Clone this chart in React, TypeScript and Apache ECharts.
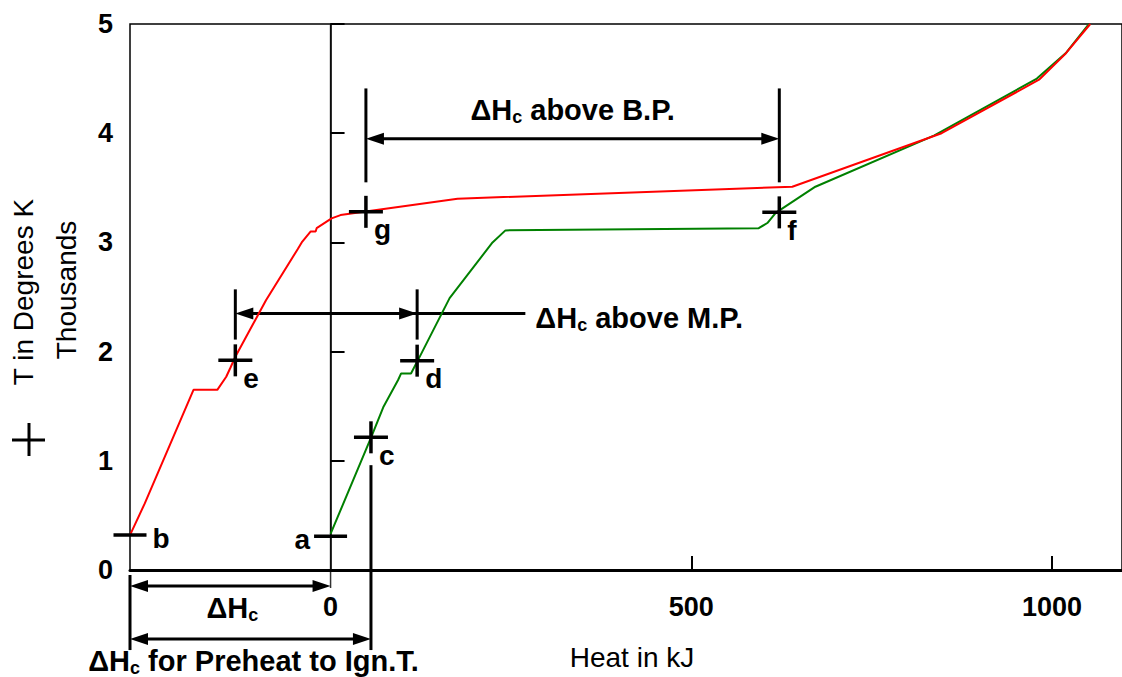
import React, { useEffect, useRef } from 'react';
import * as echarts from 'echarts';

const FONT = '"Liberation Sans", Arial, Helvetica, sans-serif';

// Curve starting at point b (heat in kJ, temperature in thousands of K)
const redHeat = [-278, -257.5, -190, -157, -144.6, -139, -132.2, -89.5, -45.4, -40, -27.5, -20.7, -19.3, 1.4, 13.8, 176, 640, 847, 982, 1019, 1053];
const redTemp = [0.32, 0.61, 1.65, 1.65, 1.77, 1.85, 1.95, 2.47, 2.94, 3.0, 3.1, 3.1, 3.13, 3.22, 3.25, 3.4, 3.51, 4.0, 4.49, 4.73, 5.0];
// Curve starting at point a
const greenHeat = [0, 56.5, 73, 93.6, 97.8, 111.5, 121, 165, 224.5, 242.4, 593.5, 606, 617, 672, 837, 979, 1020, 1051];
const greenTemp = [0.33, 1.22, 1.49, 1.74, 1.8, 1.8, 1.92, 2.49, 3.0, 3.11, 3.13, 3.18, 3.27, 3.51, 3.98, 4.5, 4.74, 5.0];

// Marked points (crosses)
const crossNames = ['c', 'd', 'e', 'f', 'g'];
const crossHeat = [56, 120, -132, 622, 49];
const crossTemp = [1.215, 1.917, 1.92, 3.275, 3.28];

// Marked start points (dashes)
const dashNames = ['a', 'b'];
const dashHeat = [0, -278];
const dashTemp = [0.31, 0.32];

const xTickValues = [500, 1000];
const xLabelValues = [0, 500, 1000];

// Dimension annotation levels (temperature units) and extents (heat units)
const bpLevels = { line: 3.95, top: 4.41, bottom: 3.55 };
const mpLevels = { line: 2.35, top: 2.57, bottom: 2.11, end: 270 };
const hcLevels = { line: -0.147, top: -0.046, bottom: -0.733, zeroEnd: -0.165 };
const preheatLevels = { line: -0.632, top: 0.96 };

export default function App() {
  const ref = useRef<HTMLDivElement>(null);

  useEffect(() => {
    const chart = echarts.init(ref.current!, null, { renderer: 'svg' });
    const crossData = crossNames.map((n, i) => ({ name: n, value: [crossHeat[i], crossTemp[i]] }));
    chart.setOption({
      animation: false,
      grid: {
        left: 130, top: 24, width: 1000, height: 546,
        show: true, borderColor: '#000', borderWidth: 1.5, backgroundColor: 'transparent',
      },
      xAxis: {
        type: 'value', min: -278, max: 1097, position: 'bottom',
        axisLine: { show: true, onZero: false, lineStyle: { color: '#000', width: 3 } },
        axisTick: { show: true, inside: true, length: 14, customValues: xTickValues, lineStyle: { color: '#000', width: 2 } },
        axisLabel: {
          show: true, customValues: xLabelValues, formatter: (v: number) => String(v),
          fontSize: 27, fontWeight: 'bold', fontFamily: FONT, color: '#000', margin: 23,
        },
        splitLine: { show: false },
        name: 'Heat in kJ', nameLocation: 'middle', nameGap: 73,
        nameTextStyle: { fontSize: 28, fontFamily: FONT, color: '#000', padding: [0, 0, 0, 12] },
      },
      yAxis: {
        type: 'value', min: 0, max: 5, interval: 1,
        axisLine: { show: true, lineStyle: { color: '#000', width: 1.5 } },
        axisTick: { show: true, inside: true, length: 14, lineStyle: { color: '#000', width: 2 } },
        axisLabel: { fontSize: 27, fontWeight: 'bold', fontFamily: FONT, color: '#000', margin: 17 },
        splitLine: { show: false },
      },
      series: [
        {
          type: 'line', silent: true, symbol: 'none', z: 3,
          data: greenHeat.map((x, i) => [x, greenTemp[i]]),
          lineStyle: { color: '#008000', width: 2 }, itemStyle: { color: '#008000' },
        },
        {
          type: 'line', silent: true, symbol: 'none', z: 3,
          data: redHeat.map((x, i) => [x, redTemp[i]]),
          lineStyle: { color: '#ff0000', width: 2 }, itemStyle: { color: '#ff0000' },
        },
        {
          // horizontal arm of the crosses
          type: 'scatter', silent: true, clip: false, z: 5,
          symbol: 'rect', symbolSize: [34, 3.5],
          itemStyle: { color: '#000', opacity: 1 },
          data: crossData,
          label: {
            show: true, formatter: '{b}', position: 'right', distance: 0, offset: [-9, 18],
            fontSize: 28, fontWeight: 'bold', fontFamily: FONT, color: '#000', opacity: 1,
          },
        },
        {
          // vertical arm of the crosses
          type: 'scatter', silent: true, clip: false, z: 5,
          symbol: 'rect', symbolSize: [3.5, 32],
          itemStyle: { color: '#000', opacity: 1 },
          data: crossData,
        },
        {
          type: 'scatter', silent: true, clip: false, z: 5,
          symbol: 'rect', symbolSize: [33, 3.5],
          itemStyle: { color: '#000', opacity: 1 },
          data: dashNames.map((n, i) => ({
            name: n, value: [dashHeat[i], dashTemp[i]],
            label: i === 0 ? { position: 'left', distance: 4, offset: [0, 3] } : { position: 'right', distance: 6, offset: [0, 3] },
          })),
          label: { show: true, formatter: '{b}', fontSize: 28, fontWeight: 'bold', fontFamily: FONT, color: '#000', opacity: 1 },
        },
      ],
    });

    const P = (x: number, y: number) => chart.convertToPixel({ gridIndex: 0 }, [x, y]) as number[];
    const AL = 18, AH = 6;
    const els: any[] = [];
    const seg = (x1: number, y1: number, x2: number, y2: number, w = 3, stroke = '#000', z = 1) =>
      els.push({ type: 'line', silent: true, z, shape: { x1, y1, x2, y2 }, style: { stroke, lineWidth: w } });
    const head = (tx: number, ty: number, dir: number) =>
      els.push({ type: 'polygon', silent: true, z: 1, shape: { points: [[tx, ty], [tx - dir * AL, ty - AH], [tx - dir * AL, ty + AH]] }, style: { fill: '#000' } });
    const rich = {
      m: { fontSize: 29, fontWeight: 'bold', fontFamily: FONT, fill: '#000', lineHeight: 32 },
      s: { fontSize: 18, fontWeight: 'bold', fontFamily: FONT, fill: '#000', verticalAlign: 'bottom', lineHeight: 18 },
    };
    const dhText = (x: number, y: number, rest: string, align: string) =>
      els.push({
        type: 'text', silent: true, z: 10, x, y,
        style: {
          text: '{m|ΔH}{s|c}' + (rest ? '{m|' + rest + '}' : ''), rich,
          align, verticalAlign: 'middle', fontSize: 29, fontWeight: 'bold', fontFamily: FONT, fill: '#000',
        },
      });

    // zero heat line
    const z0 = P(0, 5), z1 = P(0, hcLevels.zeroEnd);
    seg(z0[0], z0[1], z1[0], z1[1], 1.5, '#333', 0);

    // ΔHc above B.P. (between g and f)
    {
      const gx = P(crossHeat[4], 0)[0], fx = P(crossHeat[3], 0)[0];
      const y = P(0, bpLevels.line)[1], t = P(0, bpLevels.top)[1], b = P(0, bpLevels.bottom)[1];
      seg(gx, t, gx, b); seg(fx, t, fx, b);
      seg(gx + AL - 2, y, fx - AL + 2, y); head(gx, y, -1); head(fx, y, 1);
      dhText((gx + fx) / 2, y - 29, ' above B.P.', 'center');
    }
    // ΔHc above M.P. (between e and d)
    {
      const ex = P(crossHeat[2], 0)[0], dx = P(crossHeat[1], 0)[0], endX = P(mpLevels.end, 0)[0];
      const y = P(0, mpLevels.line)[1], t = P(0, mpLevels.top)[1], b = P(0, mpLevels.bottom)[1];
      seg(ex, t, ex, b); seg(dx, t, dx, b);
      seg(ex + AL - 2, y, endX, y); head(ex, y, -1); head(dx, y, 1);
      dhText(endX + 10, y + 5, ' above M.P.', 'left');
    }
    // ΔHc (between b and 0)
    {
      const lx = P(dashHeat[1], 0)[0], zx = P(0, 0)[0];
      const y = P(0, hcLevels.line)[1], t = P(0, hcLevels.top)[1], b = P(0, hcLevels.bottom)[1];
      seg(lx, t, lx, b);
      seg(lx + AL - 2, y, zx - AL + 2, y); head(lx, y, -1); head(zx, y, 1);
      dhText((lx + zx) / 2 + 2, y + 22, '', 'center');
    }
    // ΔHc for Preheat to Ign.T. (between b and c)
    {
      const lx = P(dashHeat[1], 0)[0], cx = P(crossHeat[0], 0)[0];
      const y = P(0, preheatLevels.line)[1], t = P(0, preheatLevels.top)[1], b = P(0, hcLevels.bottom)[1];
      seg(cx, t, cx, b);
      seg(lx + AL - 2, y, cx - AL + 2, y); head(lx, y, -1); head(cx, y, 1);
      dhText((lx + cx) / 2 + 3, y + 22, ' for Preheat to Ign.T.', 'center');
    }

    // Y axis title with legend marker
    els.push({ type: 'text', silent: true, x: 23, y: 292, rotation: Math.PI / 2, style: { text: 'T in Degrees K', fontSize: 28, fontFamily: FONT, fill: '#000', align: 'center', verticalAlign: 'middle' } });
    els.push({ type: 'text', silent: true, x: 66, y: 290, rotation: Math.PI / 2, style: { text: 'Thousands', fontSize: 28, fontFamily: FONT, fill: '#000', align: 'center', verticalAlign: 'middle' } });
    seg(12, 440, 45, 440, 3); seg(29, 423, 29, 456, 3);

    chart.setOption({ graphic: els });
    return () => chart.dispose();
  }, []);

  return <div ref={ref} style={{ position: 'absolute', left: 0, top: 0, width: 1122, height: 677 }} />;
}
